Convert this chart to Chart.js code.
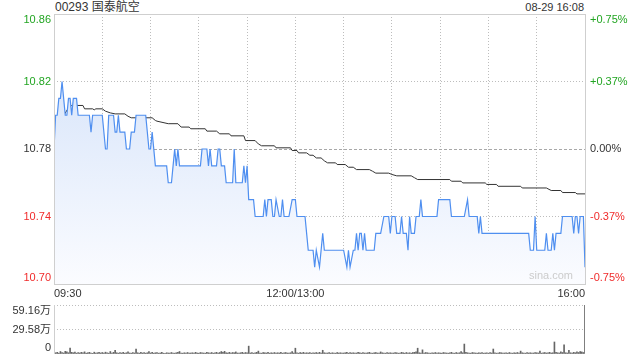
<!DOCTYPE html>
<html>
<head>
<meta charset="utf-8">
<script src="https://cdn.jsdelivr.net/npm/chart.js@4/dist/chart.umd.min.js"></script>
<style>
    html, body { margin: 0; padding: 0; background: #fff; }
    #wrap { position: relative; width: 640px; height: 360px; overflow: hidden; font-family: 'Liberation Sans', Arial, 'Noto Sans CJK SC', sans-serif; }
    #price { position: absolute; left: 0; top: 0; }
    #vol { position: absolute; left: 0; top: 300px; }
    .topo { position: absolute; top: 0; line-height: 15px; font-size: 12px; color: #333; white-space: nowrap; }
    #titulo { left: 55px; }
    #datahora { right: 56px; font-size: 11px; }
</style>
</head>
<body>
<div id="wrap">
    <div class="topo" id="titulo"></div>
    <div class="topo" id="datahora"></div>
    <canvas id="price" width="640" height="300"></canvas>
    <canvas id="vol" width="640" height="60"></canvas>
</div>
<script>
const titulo = "00293 国泰航空";
const dataHora = "08-29 16:08";
const fechamento = 10.78;

// minutos desde 09:30 (12:00/13:00 = 150, 16:00 = 330)
const minutosGrade = [0, 30, 60, 90, 120, 150, 180, 210, 240, 270, 300, 330];
const rotulosTempo = { 0: "09:30", 150: "12:00/13:00", 330: "16:00" };

const precoTicks = [10.70, 10.74, 10.78, 10.82, 10.86];
const pctTicks = ["-0.75%", "-0.37%", "0.00%", "+0.37%", "+0.75%"];

const volTicks = [0, 29.58, 59.16];
const volRotulos = ["0", "29.58万", "59.16万"];

// preco (linha azul): pontos onde o preco muda
const precoMin = [
    0, 1, 2, 3, 4, 5, 7, 8, 9, 10, 11, 12, 14, 15, 22, 23, 24, 30, 32, 33,
    34, 37, 38, 39, 40, 41, 44, 45, 47, 48, 50, 51, 57, 59, 60, 61, 63, 70, 71, 73,
    74, 75, 76, 77, 78, 91, 92, 95, 96, 97, 98, 101, 102, 103, 104, 106, 107, 111, 112, 113,
    117, 118, 119, 120, 121, 124, 125, 130, 131, 132, 133, 135, 136, 137, 138, 140, 141, 142, 143, 146,
    148, 150, 151, 156, 157, 158, 161, 162, 163, 165, 167, 168, 180, 182, 183, 184, 186, 187, 188, 189,
    190, 191, 192, 193, 194, 199, 200, 203, 205, 208, 209, 210, 212, 213, 215, 216, 217, 219, 220, 221,
    222, 224, 225, 227, 228, 229, 238, 239, 246, 247, 255, 257, 258, 263, 264, 265, 266, 295, 296, 298,
    299, 300, 305, 306, 307, 309, 310, 311, 312, 315, 316, 322, 323, 324, 325, 326, 327, 329, 330
];
const precoVal = [
    10.78, 10.80, 10.80, 10.81, 10.81, 10.82, 10.80, 10.80, 10.81, 10.81, 10.80, 10.81, 10.81, 10.80, 10.80, 10.79, 10.80, 10.80, 10.78, 10.78,
    10.80, 10.80, 10.79, 10.79, 10.80, 10.79, 10.79, 10.78, 10.78, 10.79, 10.79, 10.80, 10.80, 10.78, 10.78, 10.79, 10.77, 10.77, 10.76, 10.76,
    10.77, 10.78, 10.77, 10.78, 10.77, 10.77, 10.78, 10.78, 10.77, 10.78, 10.77, 10.77, 10.78, 10.78, 10.77, 10.77, 10.76, 10.76, 10.78, 10.76,
    10.76, 10.77, 10.76, 10.77, 10.75, 10.75, 10.74, 10.74, 10.75, 10.74, 10.75, 10.75, 10.74, 10.74, 10.75, 10.74, 10.74, 10.75, 10.74, 10.74,
    10.75, 10.75, 10.74, 10.74, 10.73, 10.72, 10.72, 10.71, 10.72, 10.71, 10.73, 10.72, 10.72, 10.71, 10.72, 10.71, 10.72, 10.72, 10.73, 10.72,
    10.73, 10.73, 10.72, 10.73, 10.72, 10.72, 10.73, 10.73, 10.74, 10.74, 10.73, 10.74, 10.74, 10.73, 10.73, 10.74, 10.73, 10.73, 10.72, 10.74,
    10.73, 10.73, 10.74, 10.74, 10.75, 10.74, 10.74, 10.75, 10.75, 10.74, 10.74, 10.75, 10.74, 10.74, 10.73, 10.74, 10.73, 10.73, 10.72, 10.72,
    10.74, 10.72, 10.72, 10.73, 10.72, 10.72, 10.73, 10.72, 10.73, 10.73, 10.74, 10.74, 10.73, 10.74, 10.74, 10.73, 10.74, 10.74, 10.71
];

// preco medio (linha preta)
const mediaMin = [
    0, 2, 3, 6, 9, 11, 18, 19, 24, 25, 26, 30, 32, 35, 38, 44, 46, 48, 61, 63,
    64, 71, 77, 79, 84, 85, 94, 95, 101, 103, 109, 110, 118, 119, 125, 127, 129, 137, 138, 147,
    148, 151, 152, 157, 159, 161, 163, 166, 168, 170, 175, 176, 181, 183, 186, 188, 196, 198, 200, 208,
    210, 213, 222, 224, 226, 246, 247, 253, 254, 268, 269, 275, 276, 290, 291, 306, 309, 315, 316, 324,
    325, 330
];
const mediaVal = [
    10.7760, 10.7906, 10.7886, 10.7998, 10.8044, 10.8058, 10.8058, 10.8038, 10.8038, 10.8032, 10.8038, 10.8038, 10.8024, 10.8014, 10.8008, 10.8008, 10.7994, 10.7985, 10.7985, 10.7969,
    10.7965, 10.7950, 10.7950, 10.7930, 10.7930, 10.7920, 10.7920, 10.7906, 10.7906, 10.7890, 10.7890, 10.7878, 10.7878, 10.7850, 10.7850, 10.7830, 10.7819, 10.7819, 10.7807, 10.7807,
    10.7791, 10.7791, 10.7777, 10.7777, 10.7763, 10.7763, 10.7747, 10.7747, 10.7730, 10.7718, 10.7718, 10.7708, 10.7708, 10.7692, 10.7692, 10.7678, 10.7678, 10.7668, 10.7657, 10.7657,
    10.7649, 10.7641, 10.7641, 10.7630, 10.7619, 10.7619, 10.7609, 10.7609, 10.7599, 10.7599, 10.7590, 10.7590, 10.7579, 10.7579, 10.7569, 10.7569, 10.7554, 10.7554, 10.7542, 10.7542,
    10.7534, 10.7534
];

// volume por minuto, em 万
const volumes = [
    2.5, 1.5, 2.0, 1.0, 3.0, 1.8, 1.2, 3.2, 2.5, 1.5, 7.0, 2.0, 1.5, 2.2, 1.0, 1.8, 1.2, 2.0, 1.5, 2.6,
    1.0, 1.5, 2.0, 1.2, 0.8, 2.2, 1.0, 1.5, 2.0, 1.2, 1.8, 1.0, 2.2, 1.5, 1.0, 3.0, 1.2, 2.0, 4.5, 1.5,
    1.0, 1.8, 1.2, 2.0, 1.0, 1.5, 2.5, 1.2, 1.0, 1.8, 1.2, 6.0, 1.5, 1.0, 2.0, 1.2, 1.8, 1.0, 1.5, 3.0,
    1.2, 2.0, 1.0, 1.5, 1.8, 1.0, 1.2, 2.0, 1.0, 0.8, 1.5, 1.2, 1.0, 1.8, 1.2, 1.0, 1.5, 2.0, 3.0, 1.2,
    1.0, 1.5, 1.2, 1.8, 1.0, 1.2, 1.5, 1.0, 2.0, 1.2, 1.0, 1.8, 1.5, 1.2, 1.0, 2.0, 1.5, 1.2, 1.8, 1.0,
    1.5, 2.0, 1.2, 1.8, 3.0, 2.0, 3.2, 1.5, 1.2, 2.0, 1.0, 1.8, 1.5, 2.5, 1.2, 1.0, 1.5, 2.0, 1.2, 1.8,
    1.5, 9.5, 1.2, 1.8, 1.0, 1.5, 2.0, 3.5, 1.2, 1.0, 1.8, 1.5, 1.2, 2.0, 1.0, 1.5, 1.2, 1.8, 1.0, 1.5,
    1.2, 2.0, 1.0, 1.5, 1.8, 1.2, 1.0, 1.5, 3.0, 1.2, 7.0, 1.5, 1.0, 1.8, 1.2, 2.0, 1.0, 1.5, 1.2, 1.8,
    1.0, 1.5, 1.2, 1.8, 1.0, 2.0, 1.2, 4.5, 1.5, 1.0, 1.2, 1.8, 1.0, 1.5, 1.2, 1.0, 1.8, 1.2, 1.5, 1.0,
    1.2, 1.5, 2.0, 1.0, 1.8, 1.2, 1.5, 1.0, 1.2, 2.0, 1.5, 1.0, 1.8, 1.2, 1.0, 1.5, 2.0, 1.2, 1.0, 1.5,
    1.8, 1.2, 1.0, 2.5, 1.5, 1.2, 1.0, 1.8, 1.2, 1.5, 1.0, 1.2, 1.8, 1.5, 1.0, 1.2, 2.0, 1.5, 1.0, 1.8,
    1.2, 1.5, 1.0, 1.8, 2.0, 2.5, 7.0, 1.5, 1.2, 5.0, 1.0, 1.8, 1.5, 1.2, 1.0, 1.5, 1.2, 1.8, 1.0, 1.5,
    1.2, 1.0, 1.8, 1.5, 1.2, 1.0, 1.5, 2.0, 1.2, 1.0, 1.8, 1.2, 1.5, 3.0, 1.5, 12.0, 2.0, 1.5, 1.2, 1.0,
    1.8, 1.5, 1.2, 1.0, 1.5, 1.2, 1.8, 1.0, 1.2, 1.5, 1.0, 1.8, 1.2, 6.0, 1.5, 1.0, 1.2, 1.8, 1.5, 1.0,
    1.2, 1.5, 1.0, 1.8, 1.2, 1.0, 1.5, 1.2, 1.8, 1.0, 3.5, 1.5, 1.2, 1.0, 1.8, 1.2, 1.5, 1.0, 1.2, 1.8,
    1.5, 1.2, 3.5, 1.0, 1.5, 1.8, 1.2, 1.5, 2.0, 1.2, 1.5, 14.5, 2.0, 1.5, 1.2, 2.5, 1.8, 11.0, 1.5, 1.2,
    4.5, 1.5, 1.2, 2.0, 1.5, 2.5, 1.8, 3.0, 2.5, 1.8, 59.16
];

const FONTE = "'Liberation Sans', Arial, 'Noto Sans CJK SC', sans-serif";
const VERDE = "#22a522";
const VERMELHO = "#f02b2b";
const ESCURO = "#333";
const GRADE = "#bdbdbd";

document.getElementById("titulo").textContent = titulo;
document.getElementById("datahora").textContent = dataHora;

// desenha os rotulos do eixo y; os das pontas ficam 6px para dentro
function plugRotulos(valores, textosEsq, textosDir, corPor) {
    return {
        id: "rotulos",
        afterDraw(chart) {
            const ctx = chart.ctx;
            const area = chart.chartArea;
            const escala = chart.scales.y;

            ctx.save();
            ctx.font = "11px " + FONTE;
            ctx.textBaseline = "middle";

            valores.forEach((v, i) => {
                let y = escala.getPixelForValue(v);
                y = Math.min(Math.max(y, area.top + 6), area.bottom - 6);
                ctx.fillStyle = corPor(v);

                ctx.textAlign = "right";
                ctx.fillText(textosEsq[i], area.left - 3, y);

                if (textosDir) {
                    ctx.textAlign = "left";
                    ctx.fillText(textosDir[i], area.right + 5, y);
                }
            });
            ctx.restore();
        }
    };
}

const plugMoldura = {
    id: "moldura",
    afterDraw(chart) {
        const ctx = chart.ctx;
        const a = chart.chartArea;
        ctx.save();
        ctx.strokeStyle = "#cfcfcf";
        ctx.lineWidth = 1;
        ctx.strokeRect(a.left + 0.5, a.top + 0.5, a.right - a.left, a.bottom - a.top);

        ctx.font = "11px " + FONTE;
        ctx.fillStyle = "#cccccc";
        ctx.textAlign = "right";
        ctx.textBaseline = "middle";
        ctx.fillText("sina.com", a.right - 12, a.bottom - 8);
        ctx.restore();
    }
};

const plugBordaVol = {
    id: "bordaVol",
    afterDraw(chart) {
        const ctx = chart.ctx;
        const a = chart.chartArea;
        ctx.save();
        ctx.strokeStyle = "#cfcfcf";
        ctx.beginPath();
        ctx.moveTo(a.left + 0.5, a.top);
        ctx.lineTo(a.left + 0.5, a.bottom);
        ctx.stroke();
        ctx.restore();
    }
};

function corPreco(v) {
    if (v > fechamento) return VERDE;
    if (v < fechamento) return VERMELHO;
    return ESCURO;
}

function gradiente(context) {
    const area = context.chart.chartArea;
    if (!area) return "rgba(0,0,0,0)";
    const g = context.chart.ctx.createLinearGradient(0, area.top, 0, area.bottom);
    g.addColorStop(0, "#cfdff9");
    g.addColorStop(1, "#fbfcff");
    return g;
}

const grafico = new Chart(document.getElementById("price"), {
    type: "line",
    data: {
        datasets: [{
            data: precoMin.map((m, i) => ({ x: m, y: precoVal[i] })),
            borderColor: "#4f8ff0",
            borderWidth: 1.2,
            pointRadius: 0,
            tension: 0,
            fill: "start",
            backgroundColor: gradiente
        }, {
            data: mediaMin.map((m, i) => ({ x: m, y: mediaVal[i] })),
            borderColor: "#333",
            borderWidth: 1,
            pointRadius: 0,
            tension: 0,
            fill: false
        }]
    },
    options: {
        responsive: false,
        animation: false,
        devicePixelRatio: 1,
        layout: { padding: { top: 14, right: 55, left: 0, bottom: 0 } },
        plugins: {
            legend: { display: false },
            tooltip: { enabled: false }
        },
        scales: {
            x: {
                type: "linear",
                min: 0,
                max: 330,
                afterBuildTicks: s => { s.ticks = minutosGrade.map(v => ({ value: v })); },
                afterFit: s => { s.height = 16; },
                ticks: {
                    autoSkip: false,
                    maxRotation: 0,
                    align: "inner",
                    padding: 3,
                    color: ESCURO,
                    font: { family: FONTE, size: 11 },
                    callback: v => rotulosTempo[v] || ""
                },
                grid: { color: GRADE, drawTicks: false, lineWidth: 1 },
                border: { display: false, dash: [1, 2] }
            },
            y: {
                min: 10.70,
                max: 10.86,
                afterBuildTicks: s => { s.ticks = precoTicks.map(v => ({ value: v })); },
                afterFit: s => { s.width = 54; },
                ticks: { display: false },
                grid: {
                    drawTicks: false,
                    color: ctx => ctx.tick && ctx.tick.value === fechamento ? "#a8a8a8" : GRADE
                },
                border: {
                    display: false,
                    dash: ctx => ctx.tick && ctx.tick.value === fechamento ? [3, 2] : [1, 2]
                }
            }
        }
    },
    plugins: [plugMoldura, plugRotulos(precoTicks, precoTicks.map(v => v.toFixed(2)), pctTicks, corPreco)]
});

const graficoVol = new Chart(document.getElementById("vol"), {
    type: "bar",
    data: {
        datasets: [{
            data: volumes.map((v, i) => ({ x: i, y: v })),
            backgroundColor: "#666",
            barThickness: 1
        }]
    },
    options: {
        responsive: false,
        animation: false,
        devicePixelRatio: 1,
        layout: { padding: { top: 5, right: 55, left: 0, bottom: 6 } },
        plugins: {
            legend: { display: false },
            tooltip: { enabled: false }
        },
        scales: {
            x: { type: "linear", min: 0, max: 330, offset: false, display: false },
            y: {
                min: 0,
                max: 59.16,
                afterBuildTicks: s => { s.ticks = volTicks.map(v => ({ value: v })); },
                afterFit: s => { s.width = 54; },
                ticks: { display: false },
                grid: {
                    drawTicks: false,
                    color: ctx => ctx.tick && ctx.tick.value === 0 ? "rgba(0,0,0,0)" : GRADE
                },
                border: { display: false, dash: [1, 2] }
            }
        }
    },
    plugins: [plugBordaVol, plugRotulos(volTicks, volRotulos, null, () => ESCURO)]
});
</script>
</body>
</html>
